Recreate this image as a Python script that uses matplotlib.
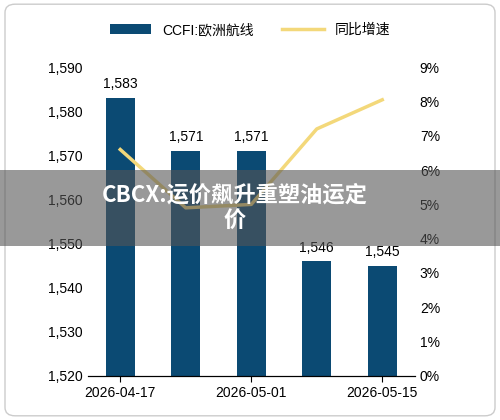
import matplotlib.pyplot as plt
from matplotlib.patches import FancyBboxPatch, Rectangle

plt.rcParams['font.family'] = ['Liberation Sans', 'Noto Sans CJK SC', 'DejaVu Sans']

dates = ["2026-04-17", "2026-04-24", "2026-05-01", "2026-05-08", "2026-05-15"]
cfi = [1583, 1571, 1571, 1546, 1545]
yoy = [6.6, 4.9, 5.0, 7.2, 8.05]

fig = plt.figure(figsize=(5, 4.2), dpi=100)
fig.patches.append(FancyBboxPatch((0.01, 0.01), 0.98, 0.98, boxstyle="round,pad=0,rounding_size=0.02",
                                  transform=fig.transFigure, fc="white", ec="#cccccc", lw=1,
                                  zorder=-10))
ax = fig.add_axes([0.175, 0.105, 0.655, 0.735])
ax2 = ax.twinx()
x = range(len(dates))
bars = ax.bar(x, cfi, width=0.45, color="#0b4a73", label="CCFI:欧洲航线", zorder=2)
for xi, v in zip(x, cfi):
    ax.text(xi, v + 1.5, f"{v:,}", ha="center", va="bottom", fontsize=10)
ax.set_ylim(1520, 1590)
ax.set_yticks(range(1520, 1591, 10))
ax.set_yticklabels([f"{v:,}" for v in range(1520, 1591, 10)], fontsize=10)
ax.set_xlim(-0.5, 4.5)
ax.set_xticks([0, 2, 4])
ax.set_xticklabels([dates[0], dates[2], dates[4]], fontsize=10)
line, = ax2.plot(x, yoy, color="#f3d87a", lw=2.5, label="同比增速")
ax2.set_ylim(0, 9)
ax2.set_yticks(range(0, 10))
ax2.set_yticklabels([f"{v}%" for v in range(0, 10)], fontsize=10)
for a in (ax, ax2):
    a.patch.set_visible(False)
    for s in ["top", "left", "right"]:
        a.spines[s].set_visible(False)
    a.tick_params(length=0)
ax.tick_params(axis="x", length=4)
fig.legend([bars, line], ["CCFI:欧洲航线", "同比增速"], loc="upper center", ncol=2,
           bbox_to_anchor=(0.5, 0.975), frameon=False, fontsize=10, handlelength=3)

fig.patches.append(Rectangle((0.0, 0.415), 1.0, 0.18, transform=fig.transFigure,
                             fc="#555555", alpha=0.6, zorder=5))
fig.text(0.47, 0.505, "CBCX:运价飙升重塑油运定\n价", ha="center", va="center", color="white",
         fontsize=16, fontweight="bold", zorder=6, linespacing=1.2,
         family=['Noto Sans CJK SC', 'DejaVu Sans'])
fig.savefig("out.png")
